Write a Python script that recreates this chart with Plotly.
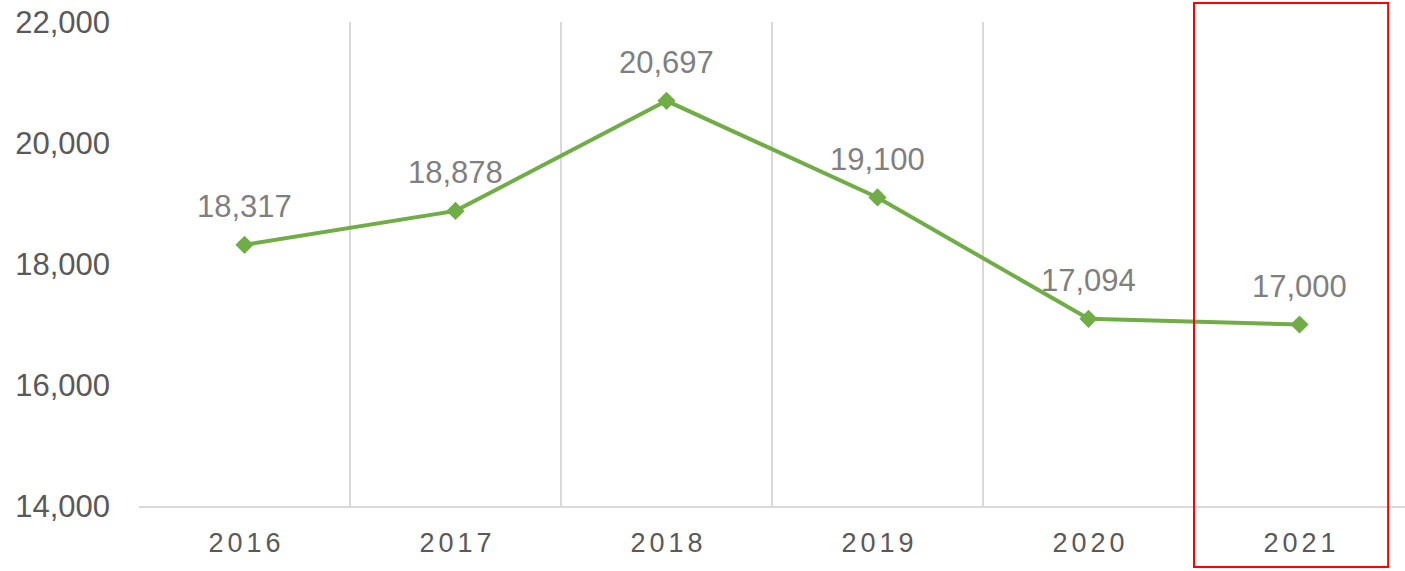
import plotly.graph_objects as go

years = ["2016", "2017", "2018", "2019", "2020", "2021"]
values = [18317, 18878, 20697, 19100, 17094, 17000]
y_ticks = [14000, 16000, 18000, 20000, 22000]
highlight_year = "2021"

green = "#70AD47"
font_family = "Liberation Sans, Arial, sans-serif"

fig = go.Figure()
fig.add_trace(go.Scatter(
    x=years, y=values, mode="lines+markers",
    line=dict(color=green, width=4),
    marker=dict(symbol="diamond", size=14, color=green),
    hoverinfo="skip", showlegend=False,
))

for i, v in enumerate(values):
    fig.add_annotation(
        x=i, y=v, xref="x", yref="y", text=f"{v:,}", showarrow=False,
        yshift=38, yanchor="middle",
        font=dict(family=font_family, size=31, color="#7F7F7F"),
    )

hi = years.index(highlight_year)
fig.add_shape(
    type="rect", xref="x", yref="paper",
    x0=hi - 0.5, x1=hi + 0.42, y0=-0.126, y1=1.039,
    line=dict(color="#FF0000", width=2), fillcolor="rgba(0,0,0,0)",
    layer="above",
)

fig.update_layout(
    width=1405, height=571,
    margin=dict(l=139, r=0, t=22, b=65),
    paper_bgcolor="white", plot_bgcolor="white",
    font=dict(family=font_family),
    xaxis=dict(
        type="category", range=[-0.5, len(years) - 0.5],
        tickson="boundaries", showgrid=True, gridcolor="#D9D9D9", gridwidth=1.5,
        showline=True, linecolor="#D9D9D9", linewidth=2,
        ticks="", ticklabelstandoff=12,
        tickfont=dict(size=27, color="#595959"),
        zeroline=False,
    ),
    yaxis=dict(
        range=[y_ticks[0], y_ticks[-1]], tickvals=y_ticks, tickformat=",",
        showgrid=False, zeroline=False, showline=False, ticks="",
        ticklabelstandoff=28,
        tickfont=dict(size=31, color="#595959"),
    ),
)

post = (
    "document.body.style.margin='0';document.body.style.overflow='hidden';"
    "document.querySelectorAll('.xtick text').forEach(function(t){"
    "t.style.letterSpacing='4px';"
    "var x=parseFloat(t.getAttribute('x')||'0');t.setAttribute('x',x+2);});"
)

fig.write_html(
    "out.html",
    config={"displayModeBar": False},
    post_script=post,
)
